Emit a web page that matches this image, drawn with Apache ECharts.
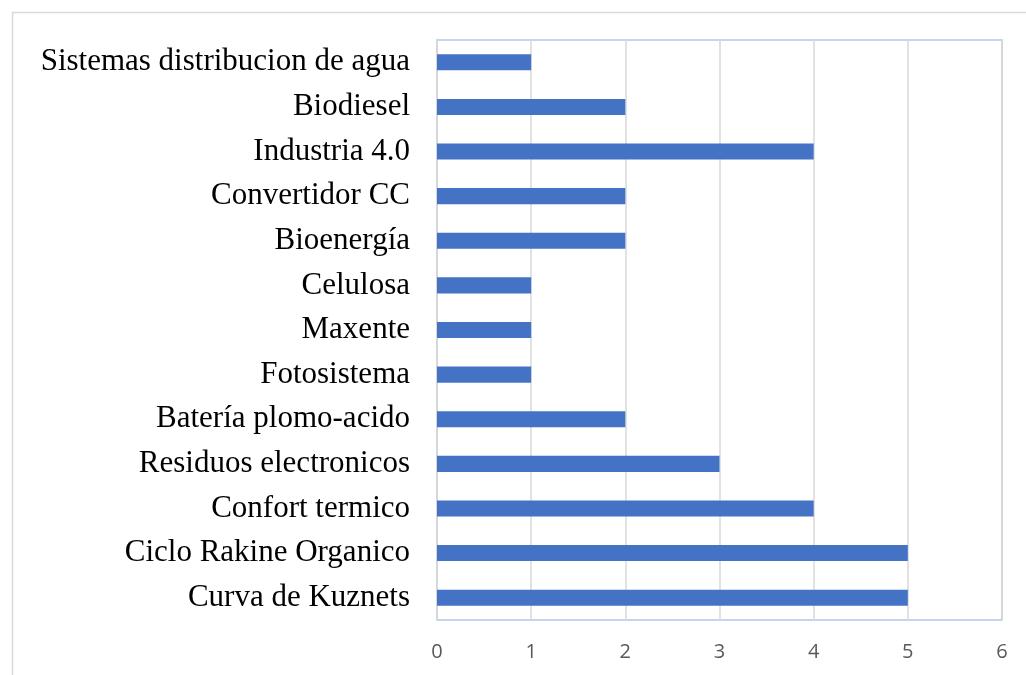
<!DOCTYPE html>
<html>
<head>
<meta charset="utf-8">
<script src="https://cdn.jsdelivr.net/npm/echarts@6/dist/echarts.min.js"></script>
<style>
    html, body { margin: 0; padding: 0; background: #ffffff; }
    #main { width: 1026px; height: 675px; }
</style>
</head>
<body>
<div id="main"></div>
<script>
// categories listed bottom to top (ECharts category y axis starts at the bottom)
var categories = [
    'Curva de Kuznets',
    'Ciclo Rakine Organico',
    'Confort termico',
    'Residuos electronicos',
    'Batería plomo-acido',
    'Fotosistema',
    'Maxente',
    'Celulosa',
    'Bioenergía',
    'Convertidor CC',
    'Industria 4.0',
    'Biodiesel',
    'Sistemas distribucion de agua'
];
var values = [5, 5, 4, 3, 2, 1, 1, 1, 2, 2, 4, 2, 1];
var xTicks = [0, 1, 2, 3, 4, 5, 6];

var myChart = echarts.init(document.getElementById('main'));
var option = {
    animation: false,
    backgroundColor: '#ffffff',
    graphic: [
        {
            type: 'rect',
            left: 10,
            top: 10,
            shape: { width: 1100, height: 700 },
            style: { fill: 'none', stroke: '#d9d9d9', lineWidth: 1.5 },
            silent: true
        }
    ],
    grid: {
        left: 437,
        right: 24,
        top: 40,
        bottom: 55,
        show: true,
        borderColor: '#b4c7e7',
        borderWidth: 1.5,
        backgroundColor: 'transparent'
    },
    xAxis: {
        type: 'value',
        min: xTicks[0],
        max: xTicks[xTicks.length - 1],
        interval: 1,
        axisLine: { show: false },
        axisTick: { show: false },
        splitLine: { show: true, lineStyle: { color: '#d9d9d9', width: 1.5 } },
        axisLabel: {
            color: '#595959',
            fontSize: 20,
            fontFamily: 'Open Sans',
            margin: 22
        }
    },
    yAxis: {
        type: 'category',
        data: categories,
        axisLine: { show: false },
        axisTick: { show: false },
        axisLabel: {
            color: '#000000',
            fontSize: 31,
            fontFamily: 'Liberation Serif',
            margin: 27,
            padding: [4, 0, 0, 0]
        }
    },
    series: [
        {
            type: 'bar',
            data: values,
            barCategoryGap: '64%',
            itemStyle: { color: '#4472c4' }
        }
    ]
};
myChart.setOption(option, true);
</script>
</body>
</html>
